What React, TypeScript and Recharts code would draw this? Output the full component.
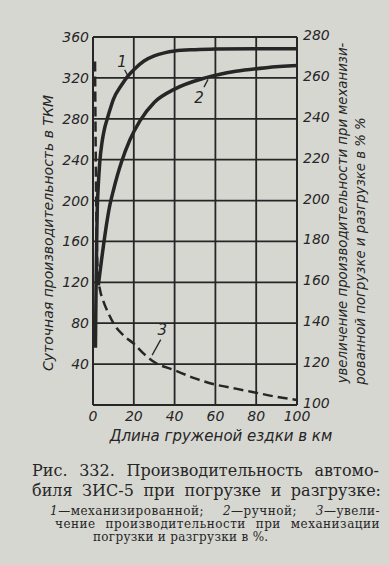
import React from "react";
import {
  CartesianGrid,
  ComposedChart,
  Label,
  Line,
  ReferenceDot,
  ReferenceLine,
  XAxis,
  YAxis,
} from "recharts";

// curve 1 — mechanized loading, ТКМ per day
const curve1Km = [1.2, 1.5, 1.8, 2.1, 2.6, 3.3, 4.5, 5.5, 7, 8.5, 10, 14, 17, 20, 25, 30, 35, 40, 50, 60, 80, 100];
const curve1Tkm = [56, 115, 160, 192, 215, 237, 258, 269, 280, 290, 299, 313, 321.5, 328, 336.5, 341.5, 344.5, 346.3, 347.6, 348.2, 348.6, 348.6];

// curve 2 — manual loading
const curve2Km = [2.6, 4, 5.4, 6.5, 8, 10, 12, 14, 18, 23, 30, 40, 55, 70, 85, 100];
const curve2Tkm = [117, 139, 160, 175, 193, 210, 225, 238, 259, 278, 296, 309, 320, 326.5, 330, 332];

// curve 3 — gain in %, right axis
const curve3Km = [1, 1.4, 1.9, 2.6, 3.5, 5, 7.5, 10, 15, 20, 25, 30, 40, 50, 60, 70, 80, 90, 100];
const curve3Pct = [268, 215, 178, 162, 156, 151, 145, 140, 134, 130, 125, 121, 117, 113, 110, 108, 106, 104, 102.5];

const xTicks = [0, 20, 40, 60, 80, 100];
const leftTicks = [0, 40, 80, 120, 160, 200, 240, 280, 320, 360];
const rightTicks = [100, 120, 140, 160, 180, 200, 220, 240, 260, 280];

const curve1 = curve1Km.map((x, i) => ({ x, y: curve1Tkm[i] }));
const curve2 = curve2Km.map((x, i) => ({ x, y: curve2Tkm[i] }));
const curve3 = curve3Km.map((x, i) => ({ x, y: curve3Pct[i] }));

const ink = "#262626";
const paper = "#d7d7d2";
const drawFont = "'DejaVu Sans', 'Noto Sans', sans-serif";
const serif = "'DejaVu Serif', 'Liberation Serif', serif";
const tickStyle = { fill: ink, fontSize: 14, fontStyle: "italic", fontFamily: drawFont };

const XTitle = () => (
  <text x={221} y={436} textAnchor="middle" dominantBaseline="central"
    fill={ink} fontSize={15} fontStyle="italic" fontFamily={drawFont}>
    Длина груженой ездки в км
  </text>
);

const LeftTitle = ({ viewBox }: any) => {
  const cx = viewBox.x + 48;
  const cy = 233;
  return (
    <text x={cx} y={cy} transform={`rotate(-90 ${cx} ${cy})`} textAnchor="middle" dominantBaseline="central"
      fill={ink} fontSize={14} fontStyle="italic" fontFamily={drawFont}>
      Суточная производительность в ТКМ
    </text>
  );
};

const RightTitle = ({ viewBox }: any) => {
  const x1 = viewBox.x + 45;
  const y1 = 213;
  const x2 = viewBox.x + 63;
  const y2 = 251;
  return (
    <g fill={ink} fontSize={13.3} fontStyle="italic" fontFamily={drawFont}>
      <text x={x1} y={y1} transform={`rotate(-90 ${x1} ${y1})`} textAnchor="middle" dominantBaseline="central">
        увеличение производительности при механизи-
      </text>
      <text x={x2} y={y2} transform={`rotate(-90 ${x2} ${y2})`} textAnchor="middle" dominantBaseline="central">
        рованной погрузке и разгрузке в % %
      </text>
    </g>
  );
};

const caption = (left: number, top: number, width: number, size: number, lh: number, spacing: number, justify = true) => ({
  position: "absolute" as const,
  left,
  top,
  width,
  fontFamily: serif,
  fontSize: size,
  lineHeight: `${lh}px`,
  letterSpacing: spacing,
  color: ink,
  whiteSpace: "nowrap" as const,
  textAlign: (justify ? "justify" : "left") as any,
  textAlignLast: (justify ? "justify" : "left") as any,
});

export default function App() {
  return (
    <div style={{ position: "relative", width: 389, height: 565, background: paper, overflow: "hidden" }}>
      <style>{"body{margin:0}"}</style>
      <ComposedChart width={389} height={450} margin={{ top: 37, right: 0, bottom: 15, left: 0 }}>
        <CartesianGrid yAxisId="left" stroke={ink} strokeWidth={1.8} />
        <XAxis
          type="number"
          dataKey="x"
          domain={[0, 100]}
          ticks={xTicks}
          height={30}
          tickLine={false}
          tickSize={0}
          tickMargin={6}
          axisLine={{ stroke: ink, strokeWidth: 2 }}
          tick={tickStyle}
          interval={0}
        >
          <Label content={XTitle} />
        </XAxis>
        <YAxis
          yAxisId="left"
          width={93}
          domain={[0, 360]}
          ticks={leftTicks}
          tickFormatter={(v: number) => (v === 0 ? "" : String(v))}
          tickLine={false}
          tickSize={0}
          tickMargin={4}
          axisLine={{ stroke: ink, strokeWidth: 2 }}
          tick={tickStyle}
          interval={0}
        >
          <Label content={LeftTitle} />
        </YAxis>
        <YAxis
          yAxisId="right"
          orientation="right"
          width={92}
          domain={[100, 280]}
          ticks={rightTicks}
          tickLine={false}
          tickSize={0}
          tickMargin={6}
          axisLine={{ stroke: ink, strokeWidth: 2 }}
          tick={{ ...tickStyle, dy: -2 }}
          interval={0}
        >
          <Label content={RightTitle} />
        </YAxis>

        <Line yAxisId="left" data={curve1} dataKey="y" type="monotone" stroke={ink} strokeWidth={3.5}
          dot={false} isAnimationActive={false} />
        <Line yAxisId="left" data={curve2} dataKey="y" type="monotone" stroke={ink} strokeWidth={3.5}
          dot={false} isAnimationActive={false} />
        <Line yAxisId="right" data={curve3} dataKey="y" type="monotone" stroke={ink} strokeWidth={2.5}
          strokeDasharray="10 5" dot={false} isAnimationActive={false} />

        <ReferenceLine yAxisId="left" segment={[{ x: 15.5, y: 328 }, { x: 17.4, y: 321 }]} stroke={ink} strokeWidth={1.3} />
        <ReferenceDot yAxisId="left" x={14.2} y={336} r={0} stroke="none"
          label={{ value: "1", position: "center", fill: ink, fontSize: 15, fontStyle: "italic", fontFamily: drawFont }} />
        <ReferenceLine yAxisId="left" segment={[{ x: 54.4, y: 311 }, { x: 56.4, y: 318.5 }]} stroke={ink} strokeWidth={1.3} />
        <ReferenceDot yAxisId="left" x={52} y={301} r={0} stroke="none"
          label={{ value: "2", position: "center", fill: ink, fontSize: 15, fontStyle: "italic", fontFamily: drawFont }} />
        <ReferenceLine yAxisId="right" segment={[{ x: 33.2, y: 132 }, { x: 29, y: 124.4 }]} stroke={ink} strokeWidth={1.3} />
        <ReferenceDot yAxisId="right" x={34} y={136.8} r={0} stroke="none"
          label={{ value: "3", position: "center", fill: ink, fontSize: 15, fontStyle: "italic", fontFamily: drawFont }} />
      </ComposedChart>

      <div style={caption(32, 461, 347, 16, 20, 0)}>Рис. 332. Производительность автомо-</div>
      <div style={caption(32, 481, 349, 16, 20, 0)}>биля ЗИС-5 при погрузке и разгрузке:</div>
      <div style={caption(50, 505, 330, 12, 13, 0.5)}>
        <i>1</i>—механизированной; <i>2</i>—ручной; <i>3</i>—увели-
      </div>
      <div style={caption(55, 518, 325, 12, 13, 0.5)}>чение производительности при механизации</div>
      <div style={caption(93, 531, 165, 12, 13, 0.3, false)}>погрузки и разгрузки в %.</div>
    </div>
  );
}
